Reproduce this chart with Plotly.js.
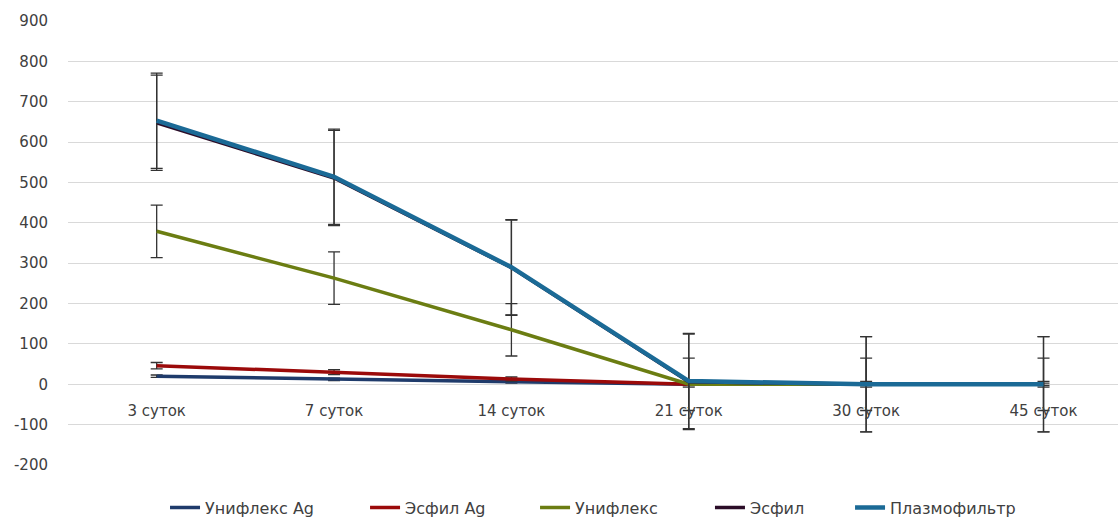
<!DOCTYPE html>
<html><head><meta charset="utf-8">
<script src="https://cdn.plot.ly/plotly-3.0.1.min.js"></script>
<style>body{margin:0;padding:0;background:#fff}#c{width:1118px;height:520px}</style>
</head><body><div id="c"></div>
<script>
const categories = ['3 суток','7 суток','14 суток','21 суток','30 суток','45 суток'];
const seriesNames = ['Унифлекс Ag','Эсфил Ag','Унифлекс','Эсфил','Плазмофильтр'];
const unifleksAg = [20, 12, 6, 0, 0, 0];
const unifleksAgErr = [3, 3, 3, 3, 3, 3];
const esfilAg = [46, 30, 13, 0, 0, 0];
const esfilAgErr = [8, 6, 5, 7, 7, 7];
const unifleks = [379, 263, 135, 0, 0, 0];
const unifleksErr = [65, 65, 65, 65, 65, 65];
const esfil = [648, 511, 289, 6, 0, 0];
const esfilErr = [118, 118, 118, 118, 118, 118];
const plazmofiltr = [653, 514, 290, 8, 0, 0];
const plazmofiltrErr = [118, 118, 118, 118, 118, 118];
const yTicks = [-200,-100,0,100,200,300,400,500,600,700,800,900];

const colors = ['#1f3b6b','#9b0a0a','#6b7d12','#2b0d28','#1b6a96'];
const vals = [unifleksAg, esfilAg, unifleks, esfil, plazmofiltr];
const errs = [unifleksAgErr, esfilAgErr, unifleksErr, esfilErr, plazmofiltrErr];
const widths = [3.5, 3.5, 3.5, 3.5, 4.5];
const legendIds = ['legend','legend2','legend3','legend4','legend5'];
const legendX = [0.0924, 0.2829, 0.4448, 0.6114, 0.7448];

const traces = vals.map((v, i) => ({
  type: 'scatter', mode: 'lines',
  x: categories.map((c, k) => k), y: v,
  name: seriesNames[i],
  legend: legendIds[i],
  line: {color: colors[i], width: widths[i]},
  error_y: {type: 'data', array: errs[i], visible: true, color: '#333333', thickness: 1.3, width: 6},
  hoverinfo: 'skip'
}));

const layout = {
  width: 1118, height: 520,
  margin: {l: 68, r: 0, t: 21, b: 55, autoexpand: false},
  paper_bgcolor: '#ffffff', plot_bgcolor: '#ffffff',
  showlegend: true,
  xaxis: {
    tickmode: 'array', tickvals: categories.map((c, k) => k), ticktext: categories,
    range: [-0.5, 5.42], showgrid: false, zeroline: false, showline: false,
    anchor: 'free', position: (0 - (-200)) / 1100, ticks: '', ticklabelstandoff: 16,
    tickfont: {family: 'DejaVu Sans, sans-serif', size: 15, color: '#404040'}, fixedrange: true
  },
  yaxis: {
    range: [-200, 900], tickmode: 'array', tickvals: yTicks, ticktext: yTicks.map(String),
    showgrid: true, gridcolor: '#d9d9d9', gridwidth: 1, zeroline: true, zerolinecolor: '#d9d9d9', zerolinewidth: 1,
    showline: false, ticks: '', ticklabelstandoff: 19,
    tickfont: {family: 'DejaVu Sans, sans-serif', size: 15, color: '#404040'}, fixedrange: true
  }
};
legendIds.forEach((id, i) => {
  layout[id] = {orientation: 'h', x: legendX[i], xanchor: 'left', y: -0.096, yanchor: 'middle',
    font: {family: 'DejaVu Sans, sans-serif', size: 16, color: '#404040'},
    bgcolor: 'rgba(0,0,0,0)', borderwidth: 0};
});
Plotly.newPlot('c', traces, layout, {displayModeBar: false, staticPlot: true});
</script></body></html>
